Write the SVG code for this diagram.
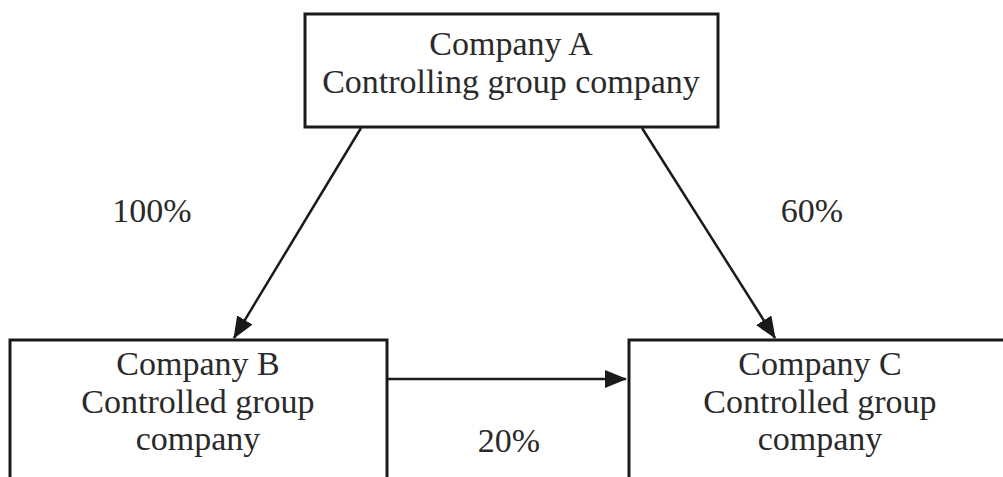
<svg xmlns="http://www.w3.org/2000/svg" width="1003" height="477" viewBox="0 0 1003 477">
<style>
.box{fill:#fff;stroke:#1a1a1a;stroke-width:3}
.t{font-family:"Liberation Serif","Times New Roman",serif;font-size:34px;fill:#2a2a2a;text-anchor:middle}
.c{stroke:#1a1a1a;stroke-width:2.5;fill:none;marker-end:url(#ah)}
</style>
<defs>
<marker id="ah" markerWidth="22" markerHeight="18" refX="21" refY="9" orient="auto" markerUnits="userSpaceOnUse">
<path d="M0,0 L22,9 L0,18 Z" fill="#1a1a1a"/>
</marker>
</defs>
<rect width="1003" height="477" fill="#fff"/>
<g id="connectors">
<line class="c" x1="361" y1="128" x2="234" y2="338"/>
<line class="c" x1="642" y1="128" x2="775" y2="338"/>
<line class="c" x1="388" y1="379" x2="626" y2="379"/>
<text class="t" x="152" y="222">100%</text>
<text class="t" x="812" y="222">60%</text>
<text class="t" x="509" y="452">20%</text>
</g>
<g id="companyA">
<rect class="box" x="305" y="14" width="413" height="113"/>
<text class="t" x="511" y="55">Company A</text>
<text class="t" x="511" y="93">Controlling group company</text>
</g>
<g id="companyB">
<rect class="box" x="10" y="340" width="377" height="150"/>
<text class="t" x="198" y="375">Company B</text>
<text class="t" x="198" y="413">Controlled group</text>
<text class="t" x="198" y="450">company</text>
</g>
<g id="companyC">
<rect class="box" x="629" y="340" width="385" height="150"/>
<text class="t" x="820" y="375">Company C</text>
<text class="t" x="820" y="413">Controlled group</text>
<text class="t" x="820" y="450">company</text>
</g>
</svg>
